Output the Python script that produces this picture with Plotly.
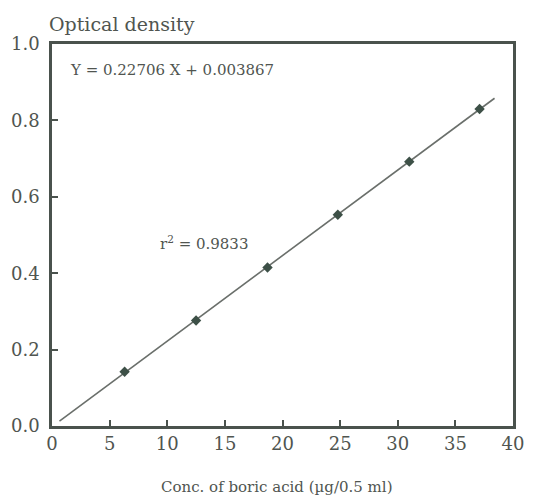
import plotly.graph_objects as go

# data
conc = [6.3, 12.5, 18.7, 24.8, 31.0, 37.1]
od = [0.142, 0.276, 0.415, 0.553, 0.692, 0.830]
fit_x = [0.65, 38.4]
fit_y = [0.013, 0.858]
x_ticks = [0, 5, 10, 15, 20, 25, 30, 35, 40]
y_ticks = [0.0, 0.2, 0.4, 0.6, 0.8, 1.0]

ink = "#4a524d"
text_col = "#505550"
font = "DejaVu Serif"

fig = go.Figure()
fig.add_trace(go.Scatter(x=fit_x, y=fit_y, mode="lines",
                         line=dict(color="#6a6f6b", width=1.6),
                         hoverinfo="skip", showlegend=False))
fig.add_trace(go.Scatter(x=conc, y=od, mode="markers",
                         marker=dict(symbol="diamond", size=8, color="#3d5047"),
                         showlegend=False))

fig.update_layout(
    width=538, height=496,
    margin=dict(l=52, r=25, t=44, b=70),
    paper_bgcolor="white", plot_bgcolor="white",
    font=dict(family=font, color=text_col),
    xaxis=dict(range=[0, 40], tickvals=x_ticks, ticktext=[str(v) for v in x_ticks],
               showgrid=False, zeroline=False, showline=True, mirror=True,
               linecolor=ink, linewidth=2.5, ticks="inside", ticklen=6,
               tickwidth=2, tickcolor=ink, tickfont=dict(size=18, family=font, color=text_col),
               ticklabelstandoff=0),
    yaxis=dict(range=[0, 1.0], tickvals=y_ticks, ticktext=[f"{v:.1f}" for v in y_ticks],
               showgrid=False, zeroline=False, showline=True, mirror=True,
               linecolor=ink, linewidth=2.5, ticks="inside", ticklen=6,
               tickwidth=2, tickcolor=ink, tickfont=dict(size=18, family=font, color=text_col),
               ticklabelstandoff=6),
    annotations=[
        dict(text="Optical density", xref="paper", yref="paper", x=-0.01, y=1.0,
             xanchor="left", yanchor="bottom", yshift=7, showarrow=False,
             font=dict(size=19, family=font, color=text_col)),
        dict(text="Conc. of boric acid (µg/0.5 ml)", xref="paper", yref="paper",
             x=0.488, y=0, xanchor="center", yanchor="middle", yshift=-61,
             showarrow=False, font=dict(size=15, family=font, color=text_col)),
        dict(text="Y = 0.22706 X + 0.003867", xref="paper", yref="paper",
             x=0.034, y=1.0, xanchor="left", yanchor="middle", yshift=-26,
             showarrow=False, font=dict(size=15, family=font, color=text_col)),
        dict(text="r<sup>2</sup> = 0.9833", xref="x", yref="y",
             x=9.2, y=0.48, xanchor="left", yanchor="middle",
             showarrow=False, font=dict(size=15, family=font, color=text_col)),
    ],
)

fig.write_html("out.html", config={"displayModeBar": False},
               post_script="document.body.style.margin='0';document.body.style.overflow='hidden';")
